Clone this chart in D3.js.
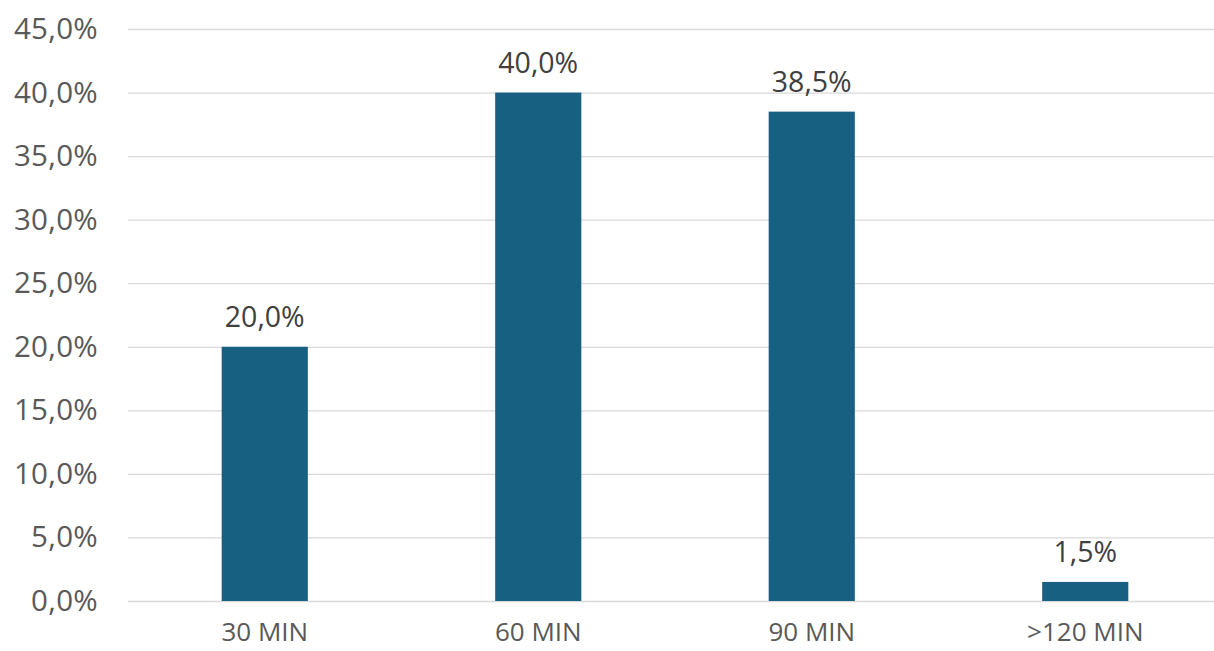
<!DOCTYPE html>
<html><head><meta charset="utf-8">
<script src="https://cdn.jsdelivr.net/npm/d3@7"></script>
<style>body{margin:0;background:#fff;overflow:hidden}svg{display:block}</style>
</head><body>
<svg id="c" width="1214" height="651"></svg>
<script>
const categories = ["30 MIN", "60 MIN", "90 MIN", ">120 MIN"];
const values = [20.0, 40.0, 38.5, 1.5];
const yTicks = [0, 5, 10, 15, 20, 25, 30, 35, 40, 45];

const svg = d3.select("#c");
const font = "'Open Sans', sans-serif";
const fmt = v => v.toFixed(1).replace(".", ",") + "%";

const x = d3.scaleBand().domain(categories).range([128, 1222]).paddingInner(0.685).paddingOuter(0.3425);
const y = d3.scaleLinear().domain([0, 45]).range([601, 29]);

const yAxis = svg.append("g").attr("transform", "translate(128,0)")
  .call(d3.axisLeft(y).tickValues(yTicks).tickSize(-1094).tickFormat(fmt));
yAxis.select(".domain").remove();
yAxis.selectAll(".tick line").attr("stroke", "#d9d9d9").attr("stroke-width", 1.3);
yAxis.selectAll(".tick text").attr("x", -30).attr("fill", "#595959")
  .style("font-family", font).style("font-size", "29.5px").style("letter-spacing", "0.3px");

svg.append("g").selectAll("rect").data(values).join("rect")
  .attr("x", (d, i) => x(categories[i]))
  .attr("width", x.bandwidth())
  .attr("y", d => y(d))
  .attr("height", d => y(0) - y(d))
  .attr("fill", "#176082");

svg.append("g").selectAll("text").data(values).join("text")
  .attr("x", (d, i) => x(categories[i]) + x.bandwidth() / 2)
  .attr("y", d => y(d) - 20)
  .attr("text-anchor", "middle")
  .attr("fill", "#404040")
  .style("font-family", font).style("font-size", "28.5px")
  .text(fmt);

const xAxis = svg.append("g").attr("transform", "translate(0,601)")
  .call(d3.axisBottom(x).tickSize(0).tickPadding(22));
xAxis.select(".domain").remove();
xAxis.selectAll(".tick text").attr("fill", "#595959")
  .style("font-family", font).style("font-size", "26px");
</script>
</body></html>
